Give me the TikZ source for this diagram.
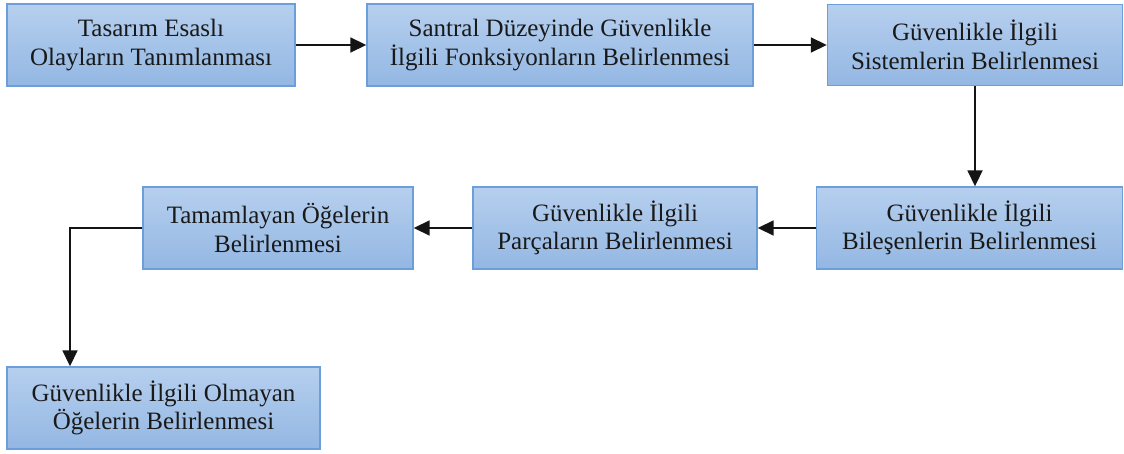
\documentclass[tikz,border=0pt]{standalone}
\usepackage{fontspec}
\setmainfont{Liberation Serif}
\usetikzlibrary{arrows.meta}
\definecolor{boxtop}{HTML}{B6CFEE}
\definecolor{boxbot}{HTML}{93B7E3}
\definecolor{boxline}{HTML}{6C9EDA}
\definecolor{arrowline}{HTML}{141414}
\begin{document}
\begin{tikzpicture}[x=1pt,y=1pt,
  stagebox/.style={draw=boxline, line width=1.4pt, top color=boxtop, bottom color=boxbot,
    rectangle, align=center, inner sep=0pt, text=black!90,
    font=\fontsize{25}{28.5}\selectfont},
  flow/.style={draw=arrowline, line width=1.8pt, -{Triangle[length=16pt,width=15pt]}}
]
\useasboundingbox (0,0) rectangle (1124,-454);

% first row
\node[stagebox, minimum width=288, minimum height=82] (b1) at (151,-45)
  {Tasarım Esaslı\\Olayların Tanımlanması};
\node[stagebox, minimum width=386, minimum height=82] (b2) at (560,-45)
  {Santral Düzeyinde Güvenlikle\\İlgili Fonksiyonların Belirlenmesi};
\node[stagebox, minimum width=295, minimum height=81] (b3) at (975,-45)
  {Güvenlikle İlgili\\Sistemlerin Belirlenmesi};

% second row
\node[stagebox, minimum width=306, minimum height=82] (b4) at (969.5,-228)
  {Güvenlikle İlgili\\Bileşenlerin Belirlenmesi};
\node[stagebox, minimum width=284, minimum height=82] (b5) at (615,-228)
  {Güvenlikle İlgili\\Parçaların Belirlenmesi};
\node[stagebox, minimum width=270, minimum height=82] (b6) at (278,-228)
  {Tamamlayan Öğelerin\\Belirlenmesi};

% third row
\node[stagebox, minimum width=313, minimum height=82] (b7) at (163.5,-408)
  {Güvenlikle İlgili Olmayan\\Öğelerin Belirlenmesi};

\coordinate (elbow) at (70,-228);

% connectors
\draw[flow] (b1.east) -- (b2.west);
\draw[flow] (b2.east) -- (b3.west);
\draw[flow] (b3.south) -- (b3.south |- b4.north);
\draw[flow] (b4.west) -- (b5.east);
\draw[flow] (b5.west) -- (b6.east);
\draw[flow] (b6.west) -- (elbow) -- (elbow |- b7.north);
\end{tikzpicture}
\end{document}
